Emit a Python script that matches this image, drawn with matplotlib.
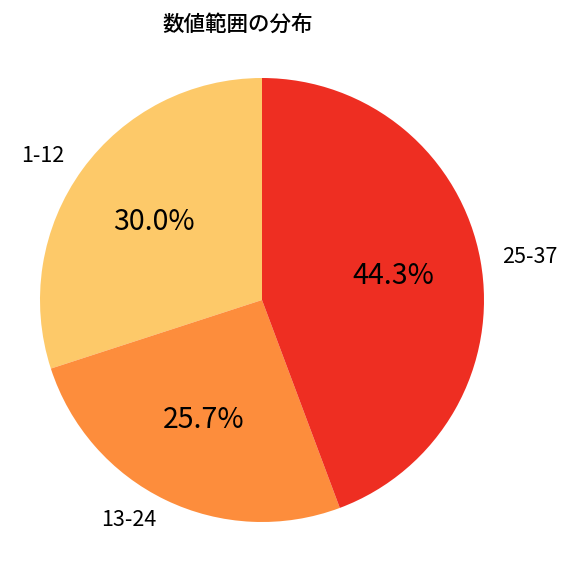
import matplotlib
matplotlib.use("Agg")
from matplotlib import pyplot as plt

plt.rcParams['font.family'] = ['Noto Sans CJK JP', 'DejaVu Sans']

labels = ['1-12', '13-24', '25-37']
values = [30.0, 25.7, 44.3]
colors = ['#fdc969', '#fd8d3c', '#ee2e22']

fig = plt.figure(figsize=(5.76, 5.76), dpi=100)
ax = fig.add_axes([0, 0, 1, 1])

# pie centre at (262, 300) px, radius 222 px
r = 222.0
wedges, texts, autotexts = ax.pie(values, labels=labels, colors=colors,
                                  startangle=90, autopct='%1.1f%%',
                                  pctdistance=0.6, labeldistance=1.1,
                                  textprops={'fontsize': 15.5})
for t in autotexts:
    t.set_fontsize(20.5)
ax.set_xlim(-262 / r, (576 - 262) / r)
ax.set_ylim(-(576 - 300) / r, 300 / r)
ax.set_aspect('equal')
ax.axis('off')

fig.text(238 / 576, 1 - 25 / 576, '数値範囲の分布', ha='center', va='center',
         fontsize=15.5, fontweight='medium')

fig.savefig('out.png', dpi=100)
